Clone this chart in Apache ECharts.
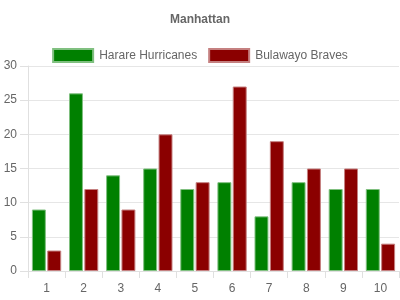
<!DOCTYPE html>
<html>
<head>
<meta charset="utf-8">
<script src="https://cdn.jsdelivr.net/npm/echarts@6/dist/echarts.min.js"></script>
<style>html,body{margin:0;padding:0;background:#fff}#c{width:400px;height:300px}</style>
</head>
<body>
<div id="c"></div>
<script>
const categories = ['1','2','3','4','5','6','7','8','9','10'];
const harare = [9, 26, 14, 15, 12, 13, 8, 13, 12, 12];
const bulawayo = [3, 12, 9, 20, 13, 27, 19, 15, 15, 4];
const seriesNames = ['Harare Hurricanes', 'Bulawayo Braves'];

const font = 'Arial, "Liberation Sans", Helvetica, sans-serif';
const chart = echarts.init(document.getElementById('c'), null, {renderer: 'canvas'});
chart.setOption({
  animation: false,
  title: {
    text: 'Manhattan', left: 'center', top: 9,
    textStyle: {fontSize: 12, fontWeight: 'bold', color: '#666', fontFamily: font}
  },
  legend: {
    top: 43, left: 'center', itemWidth: 40, itemHeight: 13, itemGap: 11,
    icon: 'rect',
    textStyle: {fontSize: 12, color: '#666', fontFamily: font, padding: [0,0,0,1]},
    data: seriesNames
  },
  grid: {left: 28, right: 1, top: 66, bottom: 29, containLabel: false},
  xAxis: {
    type: 'category', data: categories, boundaryGap: true,
    axisLine: {show: true, lineStyle: {color: '#e0e0e0'}},
    axisTick: {show: true, length: 7, lineStyle: {color: '#e0e0e0'}},
    axisLabel: {fontSize: 12, color: '#666', fontFamily: font, margin: 12},
    splitLine: {show: false}
  },
  yAxis: {
    type: 'value', min: 0, max: 30, interval: 5,
    axisLine: {show: true, lineStyle: {color: '#e0e0e0'}},
    axisTick: {show: true, length: 8, lineStyle: {color: '#e0e0e0'}},
    axisLabel: {fontSize: 12, color: '#666', fontFamily: font, margin: 11},
    splitLine: {show: true, lineStyle: {color: '#e6e6e6'}}
  },
  series: [
    {
      name: seriesNames[0], type: 'bar', data: harare,
      barCategoryGap: '21%', barGap: '10%',
      itemStyle: {color: '#008000', borderColor: '#80c080', borderWidth: 1}
    },
    {
      name: seriesNames[1], type: 'bar', data: bulawayo,
      barCategoryGap: '21%', barGap: '10%',
      itemStyle: {color: '#8b0000', borderColor: '#c58080', borderWidth: 1}
    }
  ]
});
</script>
</body>
</html>
